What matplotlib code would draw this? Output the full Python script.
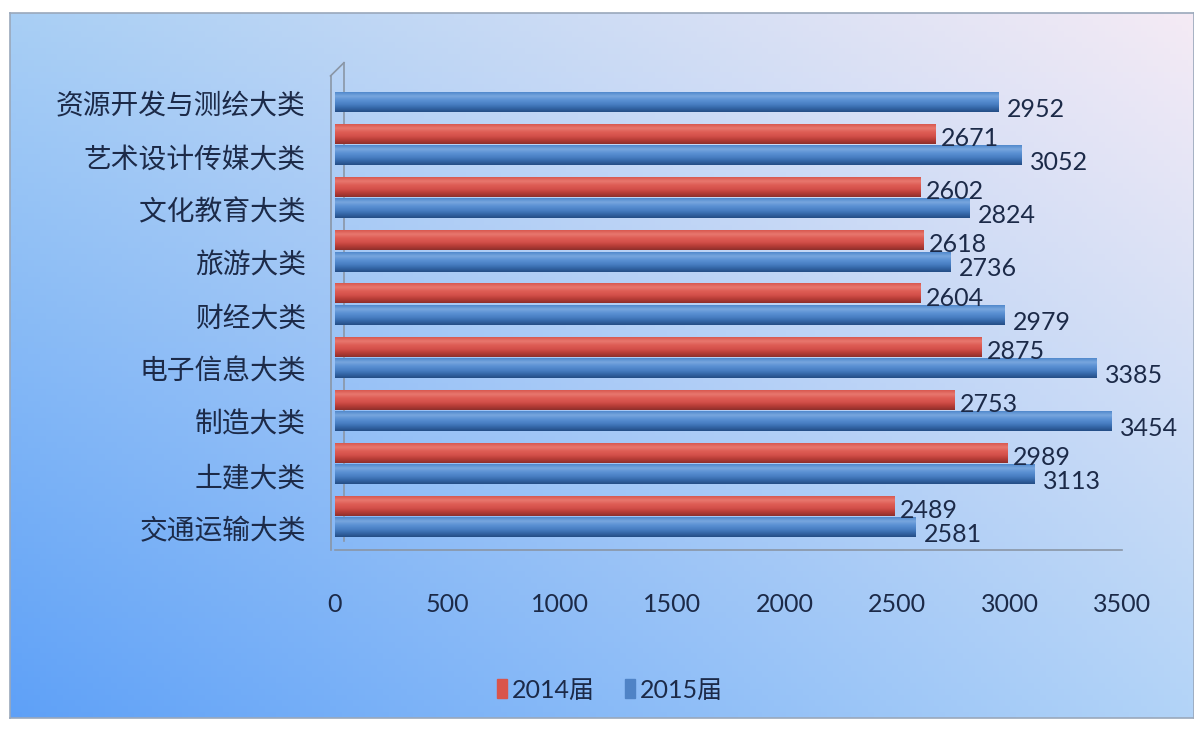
import matplotlib

matplotlib.use("Agg")

import matplotlib.pyplot as plt
import numpy as np
from matplotlib.patches import Rectangle
from matplotlib.lines import Line2D
from matplotlib.colors import LinearSegmentedColormap

plt.rcParams["font.family"] = ["Noto Sans CJK SC", "DejaVu Sans"]

# bottom to top
categories = ["交通运输大类", "土建大类", "制造大类", "电子信息大类", "财经大类",
              "旅游大类", "文化教育大类", "艺术设计传媒大类", "资源开发与测绘大类"]
v2014 = [2489, 2989, 2753, 2875, 2604, 2618, 2602, 2671, None]
v2015 = [2581, 3113, 3454, 3385, 2979, 2736, 2824, 3052, 2952]
series_names = ["2014届", "2015届"]
xticks = [0, 500, 1000, 1500, 2000, 2500, 3000, 3500]

RED = "#d9554c"
BLUE = "#4f83c6"
TXT = "#1c2a48"

# bottom -> top shading of a cylinder
red_cmap = LinearSegmentedColormap.from_list(
    "r", ["#8e2f2b", "#b63d37", "#d4504a", "#de5d55", "#e8786f", "#d8584f"])
blue_cmap = LinearSegmentedColormap.from_list(
    "b", ["#244d85", "#3567a8", "#4a80c4", "#5a90d3", "#78a6de", "#5189cc"])

W, H = 1194, 729
fig = plt.figure(figsize=(W / 100, H / 100), dpi=100)
fig.patch.set_facecolor("white")

# gradient background panel
bg = fig.add_axes([10 / W, 11 / H, 1184 / W, 705 / H])
gx = np.linspace(0, 1, 200)
gy = np.linspace(0, 1, 120)
X, Y = np.meshgrid(gx, gy)
c_bl = np.array([0.37, 0.63, 0.97])
c_br = np.array([0.70, 0.83, 0.97])
c_tl = np.array([0.66, 0.81, 0.96])
c_tr = np.array([0.96, 0.92, 0.96])
img = ((1 - X)[..., None] * (1 - Y)[..., None] * c_bl + X[..., None] * (1 - Y)[..., None] * c_br
       + (1 - X)[..., None] * Y[..., None] * c_tl + X[..., None] * Y[..., None] * c_tr)
bg.imshow(img, origin="lower", aspect="auto", extent=[0, 1, 0, 1])
bg.set_xlim(0, 1)
bg.set_ylim(0, 1)
bg.set_xticks([])
bg.set_yticks([])
for s in bg.spines.values():
    s.set_edgecolor("#9aa8bb")
    s.set_linewidth(1.2)

ax = fig.add_axes([335 / W, (H - 550) / H, (1122 - 335) / W, 490 / H])
ax.patch.set_alpha(0)
for s in ax.spines.values():
    s.set_visible(False)

y = np.arange(len(categories))
h = 0.36
off = 0.40
shade = np.linspace(0, 1, 64).reshape(-1, 1)


def draw_bars(ypos, vals, cmap):
    for yi, v in zip(ypos, vals):
        if v is None:
            continue
        ax.imshow(shade, cmap=cmap, origin="lower", aspect="auto",
                  extent=[0, v, yi - h / 2, yi + h / 2], zorder=3, interpolation="bilinear")


draw_bars(y + off, v2014, red_cmap)
draw_bars(y, v2015, blue_cmap)

lab_font = "Lato"
for yi, v in zip(y, v2014):
    if v is not None:
        ax.annotate(str(v), (v, yi + off), xytext=(4, -3), textcoords="offset points",
                    ha="left", va="center", fontsize=18, color=TXT,
                    family=lab_font, zorder=6)
for yi, v in zip(y, v2015):
    ax.annotate(str(v), (v, yi), xytext=(6, -5), textcoords="offset points",
                ha="left", va="center", fontsize=18, color=TXT,
                family=lab_font, zorder=6)

ax.set_xlim(0, 3500)
ax.set_ylim(-0.42, 8.8)
ax.set_yticks(y)
ax.set_yticklabels(categories, fontsize=20, color=TXT)
ax.tick_params(axis="y", length=0, pad=21)
ax.set_xticks(xticks)
ax.set_xticklabels([str(t) for t in xticks], fontsize=18, color=TXT, family=lab_font)
ax.tick_params(axis="x", length=0, pad=31)

# 3D wall / floor outlines
wall = "#8a96a6"
ax.add_line(Line2D([0, 3500], [-0.42, -0.42], color=wall, lw=1.2, clip_on=False, zorder=2))
ax.add_line(Line2D([-20, -20], [-0.42, 8.5], color=wall, lw=1.2, clip_on=False, zorder=2))
ax.add_line(Line2D([40, 40], [-0.25, 8.75], color=wall, lw=1.2, clip_on=False, zorder=2))
ax.add_line(Line2D([-20, 40], [8.5, 8.75], color=wall, lw=1.2, clip_on=False, zorder=2))

# legend
handles = [Rectangle((0, 0), 1, 1, color=RED), Rectangle((0, 0), 1, 1, color=BLUE)]
fig.legend(handles, series_names, loc="center", bbox_to_anchor=(610 / W, (H - 690) / H),
           ncol=2, frameon=False, fontsize=18, handlelength=0.4, handleheight=0.8,
           handletextpad=0.2, columnspacing=1.2, labelcolor=TXT,
           prop={"family": ["Lato", "Noto Sans CJK SC"], "size": 18})

fig.savefig("out.png", dpi=100)
plt.close("all")
